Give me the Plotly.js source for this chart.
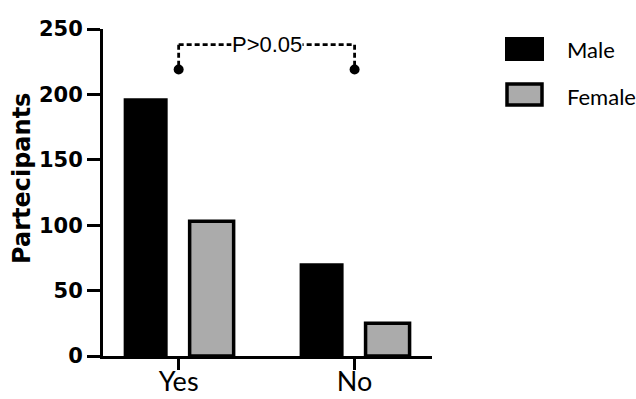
<!DOCTYPE html>
<html>
<head>
<meta charset="utf-8">
<script src="https://cdn.plot.ly/plotly-3.0.1.min.js"></script>
<style>html,body{margin:0;padding:0;background:#fff;}#chart{width:636px;height:399px;}</style>
</head>
<body>
<div id="chart"></div>
<script>
// ---- data ----
var categories = ['Yes', 'No'];
var maleValues = [197, 71];
var femaleValues = [103, 25];
var seriesNames = ['Male', 'Female'];
var yTickValues = [0, 50, 100, 150, 200, 250];
var pValueLabel = 'P>0.05';
var bracketY = 238;   // level of the significance bracket (data units)
var bracketDotY = 219; // level of the bracket end dots (data units)
var yTitle = 'Partecipants';

// ---- layout helpers (pixel -> paper) ----
var W = 636, H = 399;
var M = {l: 103, r: 204, t: 29, b: 43};
var pw = W - M.l - M.r, ph = H - M.t - M.b;
function px(x) { return (x - M.l) / pw; }
function py(y) { return (H - M.b - y) / ph; }

var traces = [
  {type: 'bar', name: seriesNames[0], x: categories, y: maleValues,
   marker: {color: '#000000', line: {color: '#000000', width: 0}}, hoverinfo: 'none'},
  {type: 'bar', name: seriesNames[1], x: categories, y: femaleValues,
   marker: {color: '#ababab', line: {color: '#000000', width: 3.5}}, hoverinfo: 'none'},
  {type: 'scatter', mode: 'markers', x: categories, y: [bracketDotY, bracketDotY],
   marker: {color: '#000000', size: 10}, hoverinfo: 'none', showlegend: false, cliponaxis: false}
];

var dashLine = {color: '#000000', width: 2.8, dash: '5px,3px'};
var shapes = [
  {type: 'line', xref: 'x', yref: 'y', x0: 0, x1: 1, y0: bracketY, y1: bracketY, line: dashLine},
  {type: 'line', xref: 'x', yref: 'y', x0: 0, x1: 0, y0: bracketY, y1: bracketDotY, line: dashLine},
  {type: 'line', xref: 'x', yref: 'y', x0: 1, x1: 1, y0: bracketY, y1: bracketDotY, line: dashLine},
  // custom legend swatches
  {type: 'rect', xref: 'paper', yref: 'paper', x0: px(505), x1: px(544), y0: py(61), y1: py(37),
   fillcolor: '#000000', line: {width: 0}},
  {type: 'rect', xref: 'paper', yref: 'paper', x0: px(507), x1: px(542), y0: py(105), y1: py(84),
   fillcolor: '#ababab', line: {color: '#000000', width: 3.5}}
];

var annotations = [
  {xref: 'x', yref: 'y', x: 0.5, y: bracketY, text: pValueLabel, showarrow: false,
   bgcolor: '#ffffff', borderpad: 0,
   font: {family: 'Liberation Sans', size: 22, color: '#000000'}},
  {xref: 'paper', yref: 'paper', x: px(565), y: py(49), xanchor: 'left', yanchor: 'middle',
   text: seriesNames[0], showarrow: false, font: {family: 'Lato', size: 22, color: '#000000'}},
  {xref: 'paper', yref: 'paper', x: px(565), y: py(96), xanchor: 'left', yanchor: 'middle',
   text: seriesNames[1], showarrow: false, font: {family: 'Lato', size: 22, color: '#000000'}},
  {xref: 'paper', yref: 'paper', x: px(22), y: py(179), xanchor: 'center', yanchor: 'middle',
   text: yTitle, textangle: -90, showarrow: false,
   font: {family: 'DejaVu Sans', size: 24, color: '#000000', weight: 'bold'}}
];

var layout = {
  width: W, height: H,
  margin: M,
  paper_bgcolor: '#ffffff', plot_bgcolor: '#ffffff',
  showlegend: false,
  barmode: 'group', bargap: 0.25, bargroupgap: 0.333,
  xaxis: {
    type: 'category', range: [-0.43, 1.44], showgrid: false, zeroline: false,
    showline: true, linecolor: '#000000', linewidth: 3,
    ticks: 'outside', ticklen: 11, tickwidth: 3, tickcolor: '#000000',
    ticklabelstandoff: -11,
    tickfont: {family: 'Lato', size: 27, color: '#000000'}, fixedrange: true
  },
  yaxis: {
    range: [0, 250], tickvals: yTickValues, showgrid: false, zeroline: false,
    showline: true, linecolor: '#000000', linewidth: 3,
    ticks: 'outside', ticklen: 13, tickwidth: 3, tickcolor: '#000000',
    tickfont: {family: 'DejaVu Sans', size: 21, color: '#000000', weight: 'bold'}, fixedrange: true
  },
  shapes: shapes,
  annotations: annotations
};

Plotly.newPlot('chart', traces, layout, {displayModeBar: false, staticPlot: true});
</script>
</body>
</html>
